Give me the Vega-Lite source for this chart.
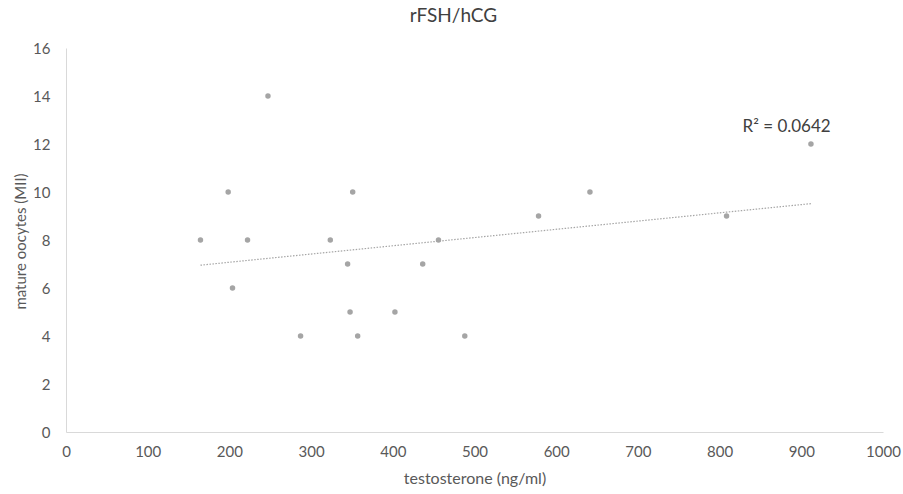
{
  "$schema": "https://vega.github.io/schema/vega-lite/v6.json",
  "width": 817,
  "height": 384,
  "autosize": "none",
  "padding": {"left": 66, "top": 48, "right": 20, "bottom": 62},
  "background": "white",
  "config": {"view": {"stroke": null}, "font": "Lato"},
  "title": {"text": "rFSH/hCG", "fontSize": 19, "fontWeight": "normal", "color": "#404040", "anchor": "middle", "frame": "group", "dx": -21, "offset": 15, "font": "Lato"},
  "datasets": {
    "pts": [
      {"testosterone": 164.6, "oocytes": 8},
      {"testosterone": 198.5, "oocytes": 10},
      {"testosterone": 203.8, "oocytes": 6},
      {"testosterone": 222.2, "oocytes": 8},
      {"testosterone": 247.2, "oocytes": 14},
      {"testosterone": 287.1, "oocytes": 4},
      {"testosterone": 323.5, "oocytes": 8},
      {"testosterone": 344.7, "oocytes": 7},
      {"testosterone": 347.7, "oocytes": 5},
      {"testosterone": 350.9, "oocytes": 10},
      {"testosterone": 357.0, "oocytes": 4},
      {"testosterone": 402.6, "oocytes": 5},
      {"testosterone": 436.6, "oocytes": 7},
      {"testosterone": 455.9, "oocytes": 8},
      {"testosterone": 488.1, "oocytes": 4},
      {"testosterone": 578.4, "oocytes": 9},
      {"testosterone": 641.3, "oocytes": 10},
      {"testosterone": 808.5, "oocytes": 9},
      {"testosterone": 911.8, "oocytes": 12}
    ],
    "lbl": [
      {"testosterone": 882, "oocytes": 12.7, "label": "R² = 0.0642"}
    ]
  },
  "layer": [
    {
      "data": {"name": "pts"},
      "transform": [{"regression": "oocytes", "on": "testosterone"}],
      "mark": {"type": "line", "color": "#A5A5A5", "strokeWidth": 1.2, "strokeDash": [1.5, 1.5]},
      "encoding": {
        "x": {"field": "testosterone", "type": "quantitative"},
        "y": {"field": "oocytes", "type": "quantitative"}
      }
    },
    {
      "data": {"name": "pts"},
      "mark": {"type": "circle", "color": "#A5A5A5", "opacity": 1, "size": 30},
      "encoding": {
        "x": {
          "field": "testosterone", "type": "quantitative",
          "scale": {"domain": [0, 1000], "nice": false, "zero": true},
          "axis": {
            "values": [0, 100, 200, 300, 400, 500, 600, 700, 800, 900, 1000],
            "format": "d", "labelFlush": false, "labelOverlap": false,
            "grid": false, "ticks": false, "domainColor": "#D9D9D9", "domainWidth": 1,
            "labelFontSize": 15, "labelColor": "#595959", "labelPadding": 12, "labelFont": "Lato",
            "title": "testosterone (ng/ml)", "titleFontSize": 16, "titleFontWeight": "normal", "titleColor": "#595959", "titleFont": "Lato",
            "titleY": 46, "titleBaseline": "middle"
          }
        },
        "y": {
          "field": "oocytes", "type": "quantitative",
          "scale": {"domain": [0, 16], "nice": false},
          "axis": {
            "values": [0, 2, 4, 6, 8, 10, 12, 14, 16],
            "format": "d", "labelOverlap": false,
            "grid": false, "ticks": false, "domainColor": "#D9D9D9", "domainWidth": 1,
            "labelFontSize": 15, "labelColor": "#595959", "labelPadding": 16, "labelFont": "Lato",
            "title": "mature oocytes (MII)", "titleFontSize": 15, "titleFontWeight": "normal", "titleColor": "#595959", "titleFont": "Lato",
            "titleX": -46, "titleY": 193, "titleBaseline": "middle", "titleAngle": -90, "titleAlign": "center"
          }
        }
      }
    },
    {
      "data": {"name": "lbl"},
      "mark": {"type": "text", "fontSize": 17, "color": "#404040", "align": "center", "baseline": "middle", "font": "Lato"},
      "encoding": {
        "x": {"field": "testosterone", "type": "quantitative"},
        "y": {"field": "oocytes", "type": "quantitative"},
        "text": {"field": "label"}
      }
    }
  ]
}
